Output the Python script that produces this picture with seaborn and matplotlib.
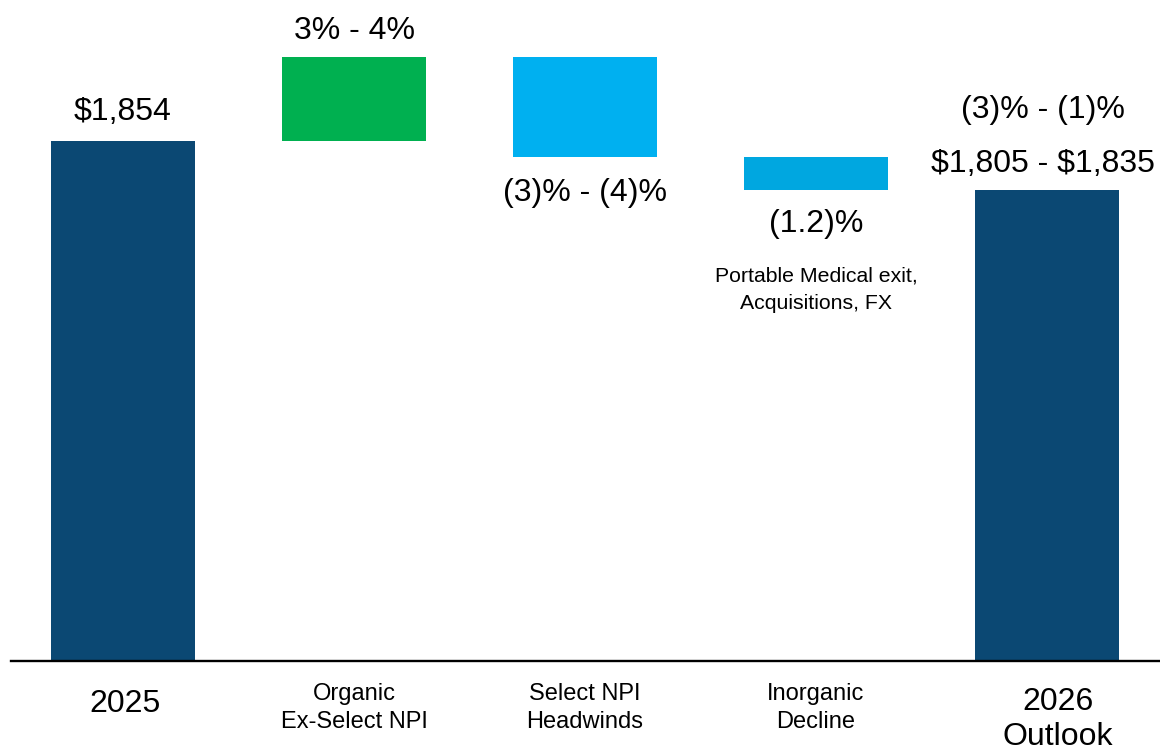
import matplotlib
matplotlib.use("Agg")
import matplotlib.pyplot as plt
import matplotlib.transforms as mtransforms
import numpy as np
import pandas as pd
import seaborn as sns

# ---- data ($M) ----
categories = ["2025", "Organic\nEx-Select NPI", "Select NPI\nHeadwinds",
              "Inorganic\nDecline", "2026\nOutlook"]
start_value = 1854.0
changes = [57.0, -68.0, -22.2]          # organic, NPI headwinds, inorganic
value_labels = ["$1,854", "3% - 4%", "(3)% - (4)%", "(1.2)%", "$1,805 - $1,835"]
growth_label = "(3)% - (1)%"
inorganic_note = "Portable Medical exit,\nAcquisitions, FX"
bar_colors = ["#0B4873", "#00B050", "#00B0F0", "#00A7E0", "#0B4873"]

# ---- waterfall geometry from the steps ----
levels = np.concatenate([[start_value], start_value + np.cumsum(changes)])
end_value = levels[-1]
bottoms = np.array([0.0] + list(np.minimum(levels[:-1], levels[1:])) + [0.0])
heights = np.array([start_value] + list(np.abs(changes)) + [end_value])
tops = bottoms + heights
df = pd.DataFrame({"step": categories, "height": heights})

sns.set_style("white")
plt.rcParams["font.family"] = ["Liberation Sans", "DejaVu Sans"]

fig = plt.figure(figsize=(11.6, 7.5), dpi=100)
ax = fig.add_axes([7.5 / 1160, 89 / 750, 1155 / 1160, 661 / 750])

sns.barplot(data=df, x="step", y="height", bottom=bottoms, width=0.623,
            color=bar_colors[0], linewidth=0, errorbar=None, ax=ax)
for patch, c in zip(ax.patches, bar_colors):
    patch.set_facecolor(c)

ax.set_xlim(-0.5, 4.5)
ax.set_ylim(1501.7, 1949.5)
ax.set_xlabel("")
ax.set_ylabel("")
ax.set_yticks([])
for side in ["left", "top", "right"]:
    ax.spines[side].set_visible(False)
ax.spines["bottom"].set_color("black")
ax.spines["bottom"].set_linewidth(1.7)
ax.spines["bottom"].set_bounds(-0.485, 4.5)
ax.tick_params(axis="x", length=0)

# category labels: large for the totals, smaller for the steps
ax.set_xticks(range(len(categories)))
ax.set_xticklabels(categories)
ticks = ax.xaxis.get_major_ticks()
label_shift_px = [2, 0, 0, 0, 11]
for i, (tick, lab) in enumerate(zip(ticks, ax.get_xticklabels())):
    if i in (0, len(categories) - 1):
        lab.set_fontsize(23)
        lab.set_linespacing(1.2)
        tick.set_pad(20.2 if i == 0 else 18.7)
    else:
        lab.set_fontsize(17)
        lab.set_linespacing(1.36)
        tick.set_pad(15.8)
    lab.set_color("black")
    if label_shift_px[i]:
        lab.set_transform(lab.get_transform() + mtransforms.ScaledTranslation(
            label_shift_px[i] / 100, 0, fig.dpi_scale_trans))

# value labels
def label(i, y, text, dy, dx=0.0, size=23, **kw):
    ax.annotate(text, xy=(i, y), xytext=(dx, dy), textcoords="offset points",
                ha="center", va="baseline", fontsize=size, color="black",
                parse_math=False, **kw)

label(0, tops[0], value_labels[0], 15.1)
label(1, tops[1], value_labels[1], 13.0)
label(2, bottoms[2], value_labels[2], -31.7)
label(3, bottoms[3], value_labels[3], -30.2)
label(4, tops[4], value_labels[4], 13.0, dx=-3.2)
label(4, tops[4], growth_label, 51.8, dx=-3.2)
ax.annotate(inorganic_note, xy=(3, bottoms[3]), xytext=(0, -55), textcoords="offset points",
            ha="center", va="top", fontsize=15.3, linespacing=1.55, color="black",
            parse_math=False)

fig.savefig("out.png", dpi=100)
